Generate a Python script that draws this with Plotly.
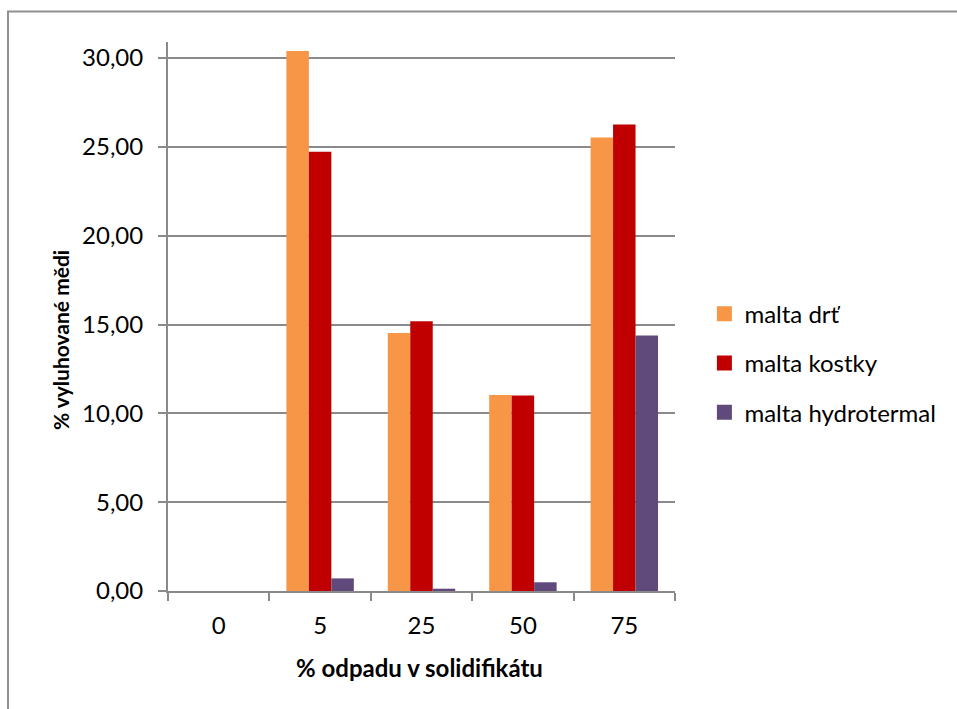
import plotly.graph_objects as go

# Waste content in the solidified product (%)
categories = ["0", "5", "25", "50", "75"]

# Leached copper (%) for each mortar type
malta_drt = [0.0, 30.39, 14.52, 11.03, 25.53]
malta_kostky = [0.0, 24.72, 15.18, 11.00, 26.26]
malta_hydrotermal = [0.0, 0.71, 0.13, 0.49, 14.38]

series_names = ["malta drť", "malta kostky", "malta hydrotermal"]
series_values = [malta_drt, malta_kostky, malta_hydrotermal]
series_colors = ["#F79646", "#C00000", "#604A7B"]

y_ticks = [0, 5, 10, 15, 20, 25, 30]

FONT = "Lato"
GRID = "#8A8A8A"

fig = go.Figure()

for name, vals, col in zip(series_names, series_values, series_colors):
    fig.add_trace(go.Bar(
        x=categories, y=vals, name=name,
        marker=dict(color=col, line=dict(width=0)),
        showlegend=False,
    ))

# Legend entries with larger square swatches
for i, (name, col) in enumerate(zip(series_names, series_colors)):
    fig.add_trace(go.Scatter(
        x=[None], y=[None], mode="markers", name=name,
        marker=dict(symbol="square", size=15, color=col),
        legendgroup=f"g{i}",
    ))

fig.update_layout(
    width=957, height=709,
    margin=dict(l=168, r=282, t=42, b=118, autoexpand=False),
    paper_bgcolor="white", plot_bgcolor="white",
    font=dict(family=FONT, size=24, color="#000000"),
    separators=", ",
    barmode="group",
    bargap=0.335, bargroupgap=0,
    legend=dict(
        x=1.058, xanchor="left", xref="paper",
        y=0.415, yanchor="middle",
        font=dict(family=FONT, size=24, color="#000000"),
        tracegroupgap=15,
        itemwidth=30,
        bgcolor="rgba(0,0,0,0)",
    ),
    xaxis=dict(
        type="category",
        showline=True, linecolor=GRID, linewidth=2,
        ticks="outside", tickson="boundaries", ticklen=8, tickwidth=2, tickcolor=GRID,
        showgrid=False, zeroline=False,
        ticklabelstandoff=12,
        tickfont=dict(family=FONT, size=24),
    ),
    yaxis=dict(
        range=[0, 30.9],
        tickvals=y_ticks, tickformat=".2f",
        showline=True, linecolor=GRID, linewidth=2,
        ticks="outside", ticklen=8, tickwidth=2, tickcolor=GRID,
        showgrid=True, gridcolor=GRID, gridwidth=2,
        zeroline=False,
        ticklabelstandoff=10,
        tickfont=dict(family=FONT, size=24),
    ),
    annotations=[
        dict(text="<b>% odpadu v solidifikátu</b>", xref="paper", yref="paper",
             x=0.497, y=-0.14, xanchor="center", yanchor="middle", showarrow=False,
             font=dict(family=FONT, size=24)),
        dict(text="<b>% vyluhované mědi</b>", xref="paper", yref="paper",
             x=-0.213, y=0.457, xanchor="center", yanchor="middle", showarrow=False,
             textangle=-90, font=dict(family=FONT, size=21)),
    ],
    shapes=[
        dict(type="rect", xref="paper", yref="paper",
             x0=-0.3156, x1=2.0, y0=-1.0, y1=1.0556,
             line=dict(color="#8F8F8F", width=2), fillcolor="rgba(0,0,0,0)", layer="below"),
    ],
)

fig.write_html("out.html")
